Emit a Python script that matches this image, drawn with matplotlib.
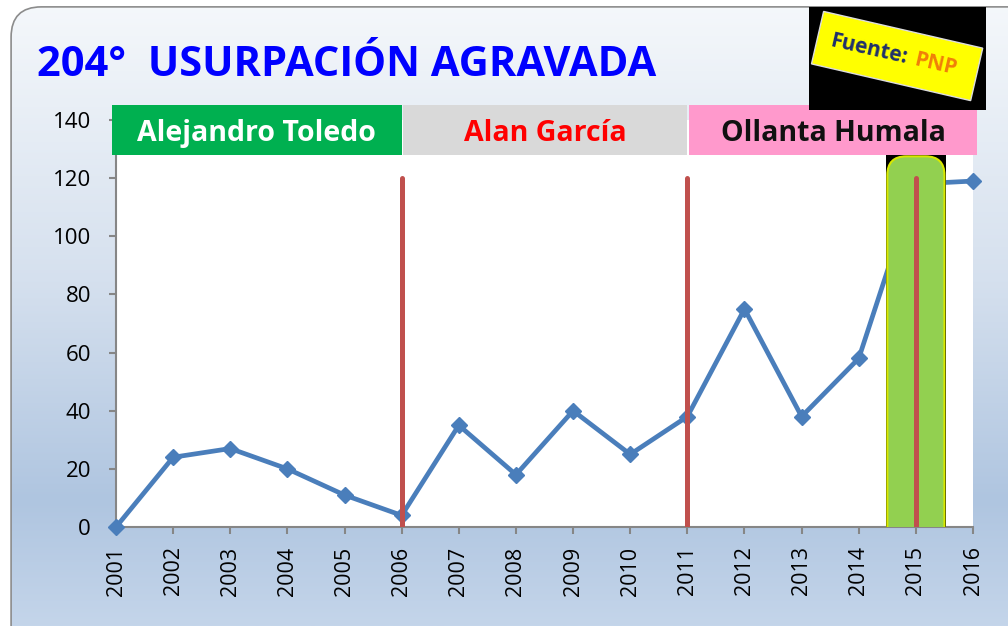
from matplotlib import pyplot as plt
from matplotlib.patches import Rectangle, FancyBboxPatch, Polygon
from matplotlib.colors import LinearSegmentedColormap
import matplotlib.transforms as mtransforms
import numpy as np

plt.rcParams['font.family'] = ['Open Sans', 'DejaVu Sans']

years = list(range(2001, 2017))
casos = [0, 24, 27, 20, 11, 4, 35, 18, 40, 25, 38, 75, 38, 58, 118, 119]

gobiernos = ['Alejandro Toledo', 'Alan García', 'Ollanta Humala']
inicio = [2001, 2006, 2011]
fin = [2006, 2011, 2016]
banda_color = ['#00B050', '#D9D9D9', '#FF99CC']
texto_color = ['white', '#FF0000', '#111111']

cambios = [2006, 2011, 2015]
destacado = 2015

W, H = 1008, 626
fig = plt.figure(figsize=(W / 100, H / 100), dpi=100)

# fondo con degradado
bg = fig.add_axes([0, 0, 1, 1], zorder=-10)
bg.set_xlim(0, 1)
bg.set_ylim(0, 1)
bg.axis('off')
cmap = LinearSegmentedColormap.from_list(
    'fondo', [(0, '#C4D5EA'), (0.2, '#AFC5E0'), (0.55, '#D5E0EE'), (1, '#F5F8FB')])
grad = np.linspace(0, 1, 256).reshape(-1, 1)
img = bg.imshow(grad, cmap=cmap, aspect='auto', extent=[0, 1, 0, 1], origin='lower')
marco = FancyBboxPatch((0.011, -0.05), 1.02, 1.039, boxstyle='round,pad=0,rounding_size=0.03',
                       mutation_aspect=W / H, facecolor='none', edgecolor='#8C8C8C', lw=1.2)
bg.add_patch(marco)
img.set_clip_path(marco)

fig.text(0.037, 0.896, '204°  USURPACIÓN AGRAVADA', color='#0000FF', fontsize=30,
         fontweight='bold', va='center', ha='left')

# Fuente: PNP
fig.patches.append(Rectangle((0.803, 0.824), 0.175, 0.165, transform=fig.transFigure,
                             facecolor='black', edgecolor='none'))
cx, cy = 0.890, 0.9105
w, h, ang = 0.162, 0.086, -13
pts = np.array([[-w / 2, -h / 2], [w / 2, -h / 2], [w / 2, h / 2], [-w / 2, h / 2]]) * [W, H]
rot = np.deg2rad(ang)
R = np.array([[np.cos(rot), -np.sin(rot)], [np.sin(rot), np.cos(rot)]])
pts = pts @ R.T / [W, H] + [cx, cy]
fig.patches.append(Polygon(pts, closed=True, transform=fig.transFigure,
                           facecolor='#FFFF00', edgecolor='#DDDDDD', lw=1))
px, py = 0.903, 0.906
fig.text(px - 0.003, py + 0.0012, 'Fuente:', color='#1F2F6B', fontsize=15, fontweight='bold',
         rotation=ang, ha='right', va='center', rotation_mode='anchor')
fig.text(px + 0.004, py - 0.0015, 'PNP', color='#F07F09', fontsize=15, fontweight='bold',
         rotation=ang, ha='left', va='center', rotation_mode='anchor')

ax = fig.add_axes([0.1151, 0.1581, 0.8502, 0.6502])
ax.set_facecolor('white')
ax.set_xlim(2001, 2016)
ax.set_ylim(0, 140)

ax.plot(years, casos, color='#4A7EBB', lw=3.4, marker='D', markersize=8.5, zorder=3,
        clip_on=False)

# bandas de gobiernos
tb = mtransforms.blended_transform_factory(ax.transData, ax.transAxes)
for i, nombre in enumerate(gobiernos):
    x0 = inicio[i] + (0.03 if i > 0 else -0.07)
    x1 = fin[i] + (0.07 if i == 2 else 0)
    ax.add_patch(Rectangle((x0, 0.914), x1 - x0, 0.123, transform=tb, facecolor=banda_color[i],
                           edgecolor='none', clip_on=False, zorder=5))
    ax.text((x0 + x1) / 2, 0.968, nombre, transform=tb, color=texto_color[i], fontsize=20.5,
            fontweight='bold', ha='center', va='center', zorder=6)

# resaltado 2015
ax.add_patch(Rectangle((destacado - 0.53, 0), 1.06, 0.914, transform=tb, facecolor='black',
                       edgecolor='none', zorder=4))
ax.add_patch(FancyBboxPatch((destacado - 0.5, -10), 1.0, 137.5,
                            boxstyle='round,pad=0,rounding_size=0.33', mutation_aspect=19.6,
                            facecolor='#92D050', edgecolor='#D8E800', lw=1.5, zorder=4.5))

for c in cambios:
    ax.plot([c, c], [0, 120], color='#C0504D', lw=3.6, solid_capstyle='round', zorder=4.8)

ax.spines['top'].set_visible(False)
ax.spines['right'].set_visible(False)
ax.spines['left'].set_color('#868686')
ax.spines['bottom'].set_color('#868686')
ax.spines['left'].set_linewidth(1.5)
ax.spines['bottom'].set_linewidth(1.5)
ax.set_xticks(years)
ax.set_xticklabels([str(y) for y in years], rotation=90, fontsize=15.5)
ax.set_yticks(range(0, 141, 20))
ax.tick_params(axis='y', labelsize=16, length=5, color='#868686', width=1.5, pad=13)
ax.tick_params(axis='x', length=5, color='#868686', width=1.5, pad=9)

fig.savefig('out.png', dpi=100)
